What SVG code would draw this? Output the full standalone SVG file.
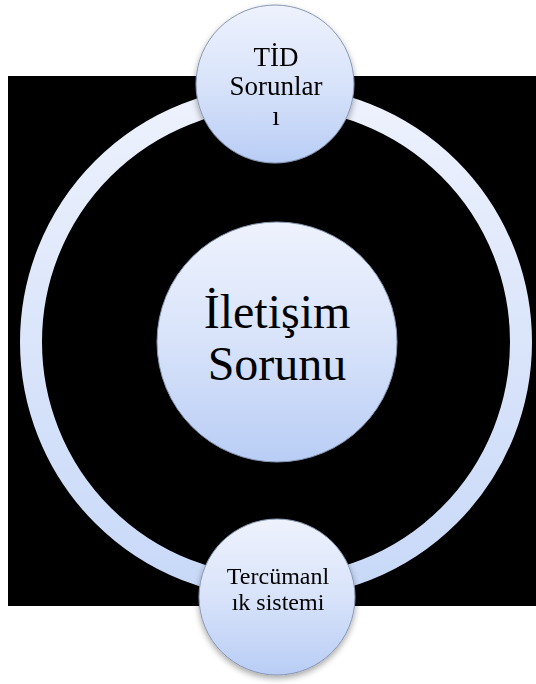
<svg xmlns="http://www.w3.org/2000/svg" width="536" height="684" viewBox="0 0 536 684">
  <defs>
    <linearGradient id="nodeFill" x1="0" y1="0" x2="0" y2="1">
      <stop offset="0" stop-color="#eef2fd"/>
      <stop offset="0.5" stop-color="#d8e3fa"/>
      <stop offset="1" stop-color="#b9cdf5"/>
    </linearGradient>
    <linearGradient id="ringStroke" gradientUnits="userSpaceOnUse" x1="0" y1="86" x2="0" y2="598">
      <stop offset="0" stop-color="#eef2fd"/>
      <stop offset="1" stop-color="#c7d8f8"/>
    </linearGradient>
    <filter id="shadow" x="-30%" y="-30%" width="160%" height="160%">
      <feGaussianBlur in="SourceAlpha" stdDeviation="3"/>
      <feOffset dx="0" dy="3" result="b"/>
      <feComponentTransfer><feFuncA type="linear" slope="0.35"/></feComponentTransfer>
      <feMerge><feMergeNode/><feMergeNode in="SourceGraphic"/></feMerge>
    </filter>
  </defs>
  <style>
    .node { fill: url(#nodeFill); stroke: #8797b3; stroke-width: 1; }
    .lbl { font-family: "Liberation Serif", "Times New Roman", serif; fill: #000; text-anchor: middle; }
  </style>
  <rect x="0" y="0" width="536" height="684" fill="#ffffff"/>
  <rect x="8" y="76" width="528" height="530" fill="#000000"/>
  <g id="connectors">
    <circle cx="276" cy="342" r="245" fill="none" stroke="url(#ringStroke)" stroke-width="22"/>
  </g>
  <g id="node-center">
    <circle class="node" cx="277" cy="342" r="120" stroke="none"/>
    <text class="lbl" x="277" y="328" font-size="48">İletişim</text>
    <text class="lbl" x="277" y="380" font-size="48">Sorunu</text>
  </g>
  <g id="node-top" filter="url(#shadow)">
    <circle class="node" cx="275" cy="84" r="79"/>
    <text class="lbl" x="276" y="66" font-size="27">TİD</text>
    <text class="lbl" x="276" y="95" font-size="27">Sorunlar</text>
    <text class="lbl" x="276" y="125" font-size="27">ı</text>
  </g>
  <g id="node-bottom" filter="url(#shadow)">
    <circle class="node" cx="277" cy="597" r="78"/>
    <text class="lbl" x="278" y="584" font-size="24">Tercümanl</text>
    <text class="lbl" x="278" y="610" font-size="24">ık sistemi</text>
  </g>
</svg>
